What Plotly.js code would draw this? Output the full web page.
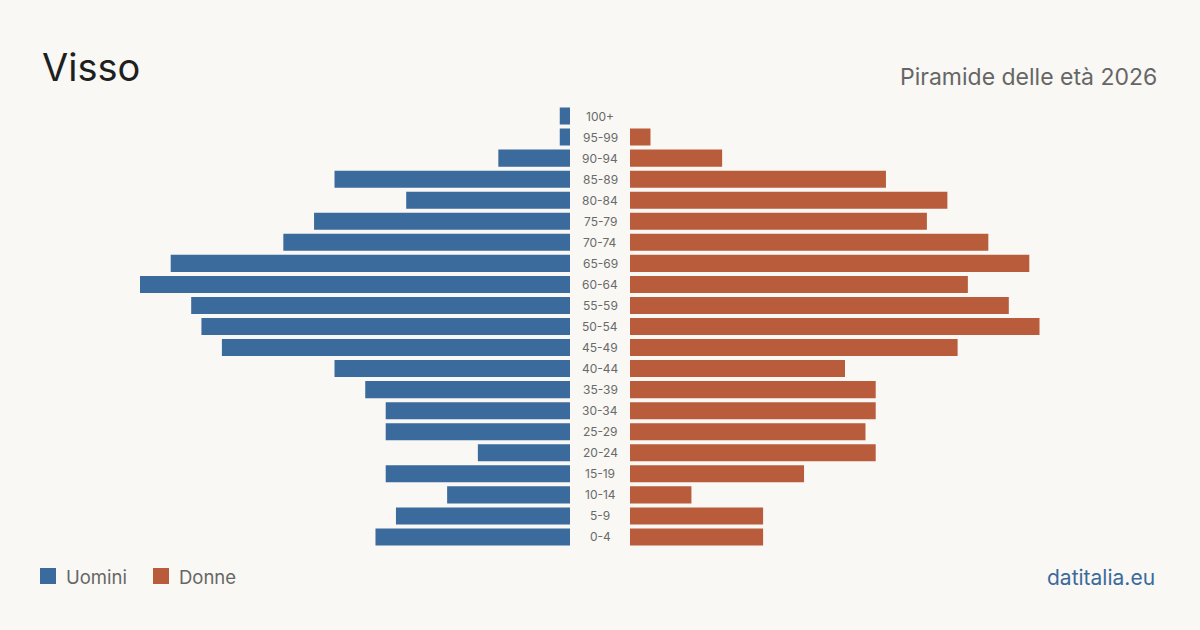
<!DOCTYPE html>
<html><head><meta charset="utf-8">
<script src="https://cdn.plot.ly/plotly-3.0.1.min.js"></script>
<style>html,body{margin:0;padding:0;background:#f9f8f4;}#chart{width:1200px;height:630px;}</style>
</head><body><div id="chart"></div>
<script>
const ageGroups = ["0-4","5-9","10-14","15-19","20-24","25-29","30-34","35-39","40-44","45-49","50-54","55-59","60-64","65-69","70-74","75-79","80-84","85-89","90-94","95-99","100+"];
const men   = [19,17,12,18,9,18,18,20,23,34,36,37,42,39,28,25,16,23,7,1,1];
const women = [13,13,6,17,24,23,24,24,21,32,40,37,33,39,35,29,31,25,9,2,0];
const blue = "#3b6a9c", orange = "#b95c3c";
const maxV = Math.max(...men, ...women);

const traces = [
  {type:"bar", orientation:"h", y:ageGroups, x:men, xaxis:"x", yaxis:"y", marker:{color:blue}, name:"Uomini", showlegend:false, hoverinfo:"x+y"},
  {type:"bar", orientation:"h", y:ageGroups, x:women, xaxis:"x2", yaxis:"y2", marker:{color:orange}, name:"Donne", showlegend:false, hoverinfo:"x+y"}
];

const yDom = [(630-547.5)/630, (630-105.5)/630];
const annotations = ageGroups.map(g => ({
  text:g, x:0.5, xref:"paper", y:g, yref:"y", showarrow:false,
  font:{family:"Inter, sans-serif", size:12, color:"#6a6a6a"}, xanchor:"center", yanchor:"middle"
}));
annotations.push(
  {text:"Visso", x:40/1200, y:(630-67)/630, xref:"paper", yref:"paper", xanchor:"left", yanchor:"middle", showarrow:false, font:{family:"Inter, sans-serif", size:38, color:"#1f1f1f"}},
  {text:"Piramide delle età 2026", x:1159/1200, y:(630-77)/630, xref:"paper", yref:"paper", xanchor:"right", yanchor:"middle", showarrow:false, font:{family:"Inter, sans-serif", size:23, color:"#666"}},
  {text:"Uomini", x:64/1200, y:(630-577)/630, xref:"paper", yref:"paper", xanchor:"left", yanchor:"middle", showarrow:false, font:{family:"Inter, sans-serif", size:18.5, color:"#666"}},
  {text:"Donne", x:177/1200, y:(630-577)/630, xref:"paper", yref:"paper", xanchor:"left", yanchor:"middle", showarrow:false, font:{family:"Inter, sans-serif", size:18.5, color:"#666"}},
  {text:"datitalia.eu", x:1157/1200, y:(630-577)/630, xref:"paper", yref:"paper", xanchor:"right", yanchor:"middle", showarrow:false, font:{family:"Inter, sans-serif", size:21, color:"#3b6a9c"}}
);
const shapes = [
  {type:"rect", xref:"paper", yref:"paper", x0:40/1200, x1:56/1200, y0:(630-584)/630, y1:(630-568)/630, fillcolor:blue, line:{width:0}},
  {type:"rect", xref:"paper", yref:"paper", x0:153/1200, x1:169/1200, y0:(630-584)/630, y1:(630-568)/630, fillcolor:orange, line:{width:0}}
];

const axisCommon = {showgrid:false, zeroline:false, showline:false, showticklabels:false, ticks:"", fixedrange:true};
const layout = {
  width:1200, height:630, margin:{l:0,r:0,t:0,b:0},
  paper_bgcolor:"#f9f8f4", plot_bgcolor:"#f9f8f4",
  bargap:0.19, showlegend:false,
  xaxis:Object.assign({}, axisCommon, {domain:[140/1200, 570/1200], range:[maxV,0]}),
  xaxis2:Object.assign({}, axisCommon, {domain:[630/1200, 1060/1200], range:[0,maxV]}),
  yaxis:Object.assign({}, axisCommon, {domain:yDom, type:"category", anchor:"x"}),
  yaxis2:Object.assign({}, axisCommon, {domain:yDom, type:"category", anchor:"x2", matches:"y"}),
  annotations:annotations, shapes:shapes
};
Plotly.newPlot("chart", traces, layout, {displayModeBar:false, staticPlot:true});
</script></body></html>
